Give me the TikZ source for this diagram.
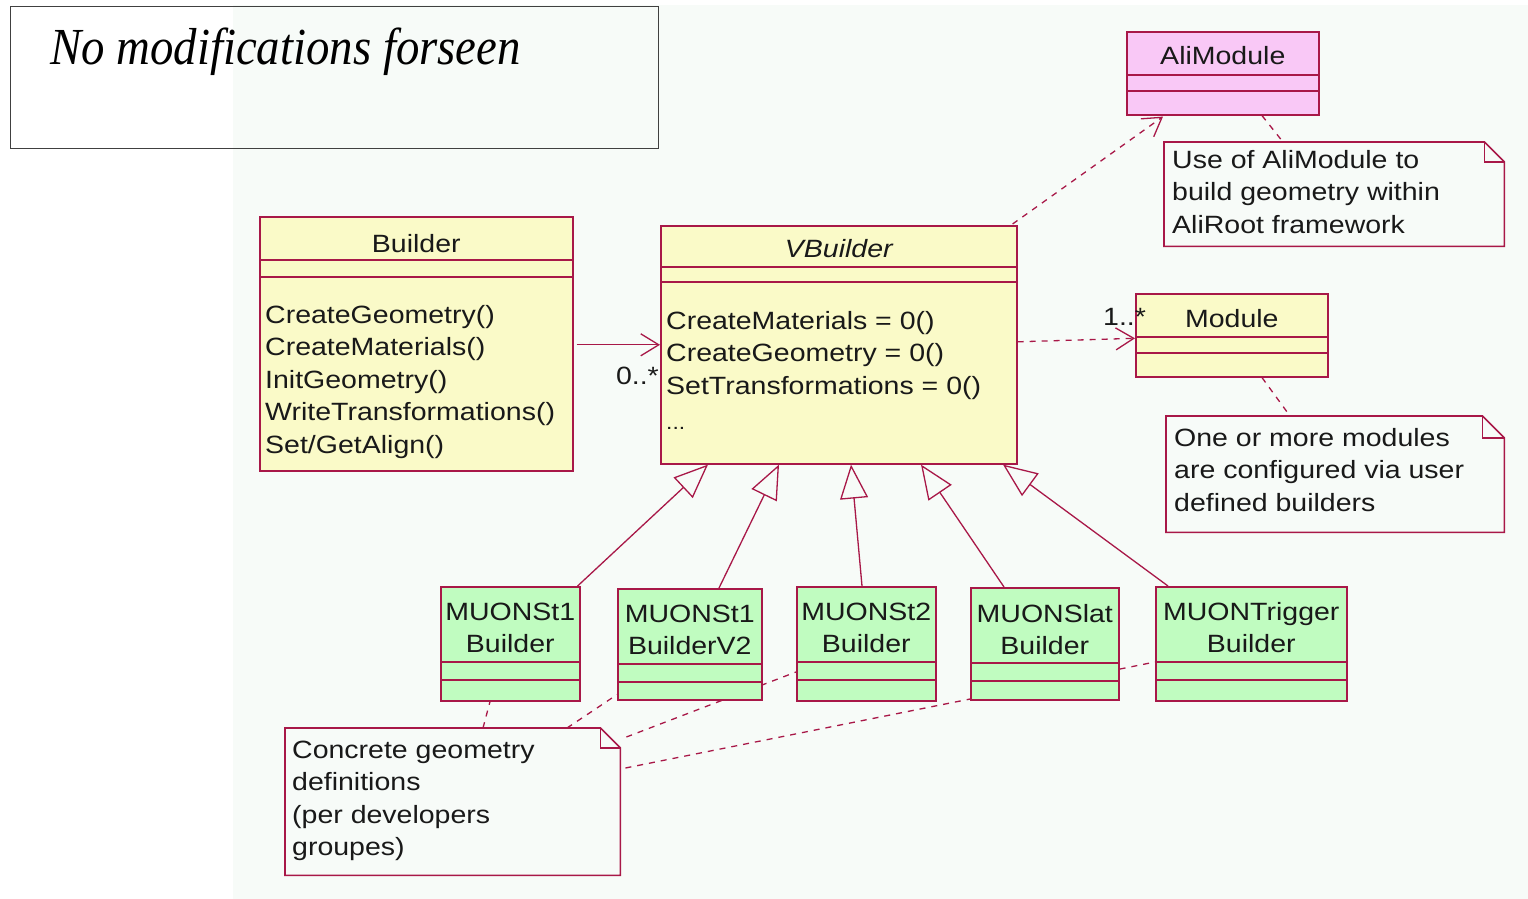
\documentclass[tikz,border=0pt]{standalone}
\usepackage{fontspec}
\newfontfamily\uifont[FakeStretch=1.14]{Liberation Sans}
\newfontfamily\titlefont[FakeStretch=0.9]{Liberation Serif}
\usetikzlibrary{arrows.meta,calc}

\definecolor{umlline}{RGB}{168,24,72}
\definecolor{classyellow}{RGB}{250,250,200}
\definecolor{classpink}{RGB}{249,200,246}
\definecolor{classgreen}{RGB}{192,252,192}
\definecolor{canvas}{RGB}{247,251,248}

\pgfdeclarelayer{canvaslayer}
\pgfdeclarelayer{links}
\pgfsetlayers{canvaslayer,links,main}

% horizontal compartment separator inside a class box
\newcommand\classrule[2]{%
  \draw[umlline,line width=1.6pt] ($(#1.north west)+(0,#2)$) -- ($(#1.north east)+(0,#2)$);}
% note outline with a folded top-right corner
\newcommand\notepath[2]{%
  \draw[umlline,line width=1.6pt] (#1.north west) -- ($(#1.north east)+(-#2,0)$)
     -- ($(#1.north east)+(0,#2)$) -- (#1.south east) -- (#1.south west) -- cycle;
  \draw[umlline,line width=1.6pt] ($(#1.north east)+(-#2,0)$) -- ++(0,#2) -- ++(#2,0);}

\tikzset{
  umltext/.style={font=\uifont\fontsize{25}{32.5}\selectfont, inner sep=0pt, text=black!90},
  classbox/.style={draw=umlline, line width=1.6pt, anchor=north west, inner sep=0pt},
  yclass/.style={classbox, fill=classyellow},
  pclass/.style={classbox, fill=classpink},
  gclass/.style={classbox, fill=classgreen},
  notearea/.style={anchor=north west, inner sep=0pt},
  assoc/.style={draw=umlline, line width=1.3pt, -{Straight Barb[length=18pt,width=22pt]}},
  depend/.style={assoc, dash pattern=on 6pt off 6pt},
  inherit/.style={draw=umlline, line width=1.3pt, -{Triangle[open,length=34pt,width=28pt]}},
  noteline/.style={draw=umlline, line width=1.3pt, dash pattern=on 6pt off 6pt},
}

\begin{document}
\begin{tikzpicture}[x=1pt,y=-1pt]
\useasboundingbox (0,0) rectangle (1528,899);
\begin{pgfonlayer}{canvaslayer}
  \fill[canvas] (233,5) rectangle (1528,899);
\end{pgfonlayer}

% headline frame
\node[draw=black!75, line width=1pt, anchor=north west, inner sep=0pt,
      minimum width=648pt, minimum height=142pt] (headframe) at (10,6) {};
\node[anchor=base west, inner sep=0pt, font=\titlefont\itshape\fontsize{52}{52}\selectfont]
      (headtext) at (50,64) {No modifications forseen};

% ---------- Builder ----------
\node[yclass, minimum width=313pt, minimum height=254pt] (builder) at (259,216) {};
\classrule{builder}{44}\classrule{builder}{61}
\node[umltext, anchor=base] (buildername) at ($(builder.north)+(0,36)$) {Builder};
\node[umltext, anchor=base west] (builderops) at (265,323)
  {\begin{tabular}[t]{@{}l@{}}CreateGeometry()\\CreateMaterials()\\InitGeometry()\\WriteTransformations()\\Set/GetAlign()\end{tabular}};

% ---------- VBuilder ----------
\node[yclass, minimum width=356pt, minimum height=238pt] (vbuilder) at (660,225) {};
\classrule{vbuilder}{42}\classrule{vbuilder}{57}
\node[umltext, anchor=base, font=\uifont\itshape\fontsize{25}{32}\selectfont] (vbuildername)
  at ($(vbuilder.north)+(0,32)$) {VBuilder};
\node[umltext, anchor=base west] (vbuilderops) at (666,329)
  {\begin{tabular}[t]{@{}l@{}}CreateMaterials = 0()\\CreateGeometry = 0()\\SetTransformations = 0()\\[3pt]{\fontsize{20}{20}\selectfont...}\end{tabular}};

% ---------- AliModule ----------
\node[pclass, minimum width=192pt, minimum height=83pt] (alimodule) at (1126,31) {};
\classrule{alimodule}{44}\classrule{alimodule}{60}
\node[umltext, anchor=base] (alimodulename) at ($(alimodule.north)+(0,34)$) {AliModule};

% ---------- Module ----------
\node[yclass, minimum width=192pt, minimum height=83pt] (module) at (1135,293) {};
\classrule{module}{44}\classrule{module}{60}
\node[umltext, anchor=base] (modulename) at ($(module.north)+(0,34)$) {Module};

% ---------- concrete builders ----------
\node[gclass, minimum width=139pt, minimum height=114pt] (st1) at (440,586) {};
\node[gclass, minimum width=144pt, minimum height=111pt] (st1v2) at (617,588) {};
\node[gclass, minimum width=139pt, minimum height=114pt] (st2) at (796,586) {};
\node[gclass, minimum width=148pt, minimum height=112pt] (slat) at (970,587) {};
\node[gclass, minimum width=191pt, minimum height=114pt] (trigger) at (1155,586) {};
\foreach \b in {st1,st1v2,st2,slat,trigger}{\classrule{\b}{76}\classrule{\b}{94}}
\node[umltext, anchor=base] (st1name) at ($(st1.north)+(0,34)$)
  {\begin{tabular}[t]{@{}c@{}}MUONSt1\\Builder\end{tabular}};
\node[umltext, anchor=base] (st1v2name) at ($(st1v2.north)+(0,34)$)
  {\begin{tabular}[t]{@{}c@{}}MUONSt1\\BuilderV2\end{tabular}};
\node[umltext, anchor=base] (st2name) at ($(st2.north)+(0,34)$)
  {\begin{tabular}[t]{@{}c@{}}MUONSt2\\Builder\end{tabular}};
\node[umltext, anchor=base] (slatname) at ($(slat.north)+(0,35)$)
  {\begin{tabular}[t]{@{}c@{}}MUONSlat\\Builder\end{tabular}};
\node[umltext, anchor=base] (triggername) at ($(trigger.north)+(0,34)$)
  {\begin{tabular}[t]{@{}c@{}}MUONTrigger\\Builder\end{tabular}};

% ---------- notes ----------
\node[notearea, minimum width=340pt, minimum height=104pt] (note1) at (1164,142) {};
\notepath{note1}{20}
\node[umltext, anchor=base west] (note1text) at (1172,168)
  {\begin{tabular}[t]{@{}l@{}}Use of AliModule to\\build geometry within\\AliRoot framework\end{tabular}};

\node[notearea, minimum width=338pt, minimum height=116pt] (note2) at (1166,416) {};
\notepath{note2}{22}
\node[umltext, anchor=base west] (note2text) at (1174,446)
  {\begin{tabular}[t]{@{}l@{}}One or more modules\\are configured via user\\defined builders\end{tabular}};

\node[notearea, minimum width=335pt, minimum height=147pt] (note3) at (285,728) {};
\notepath{note3}{20}
\node[umltext, anchor=base west] (note3text) at (292,758)
  {\begin{tabular}[t]{@{}l@{}}Concrete geometry\\definitions\\(per developers\\groupes)\end{tabular}};

% multiplicities
\node[umltext, anchor=base east] (mult0) at (659,384) {0..*};
\node[umltext, anchor=base west] (mult1) at (1103,325) {1..*};

% ---------- connectors ----------
\begin{pgfonlayer}{links}
  \draw[assoc] ($(builder.east)+(3,1)$) -- ($(vbuilder.west)+(0,0)$);
  \draw[depend] ($(vbuilder.east)+(0,-3)$) -- ($(module.west)+(0,3)$);
  \draw[depend] ($(vbuilder.north east)+(-5,-1)$) -- ($(alimodule.south west)+(37,1)$);
  \draw[noteline] ($(alimodule.south west)+(136,0)$) -- ($(note1.north west)+(119,0)$);
  \draw[noteline] ($(module.south west)+(127,0)$) -- ($(note2.north west)+(124,0)$);

  \draw[inherit] ($(st1.north east)+(-3,0)$) -- ($(vbuilder.south west)+(48,0)$);
  \draw[inherit] ($(st1v2.north west)+(102,0)$) -- ($(vbuilder.south west)+(119,0)$);
  \draw[inherit] ($(st2.north west)+(66,0)$) -- ($(vbuilder.south west)+(191,0)$);
  \draw[inherit] ($(slat.north west)+(34,0)$) -- ($(vbuilder.south west)+(261,0)$);
  \draw[inherit] ($(trigger.north west)+(13,0)$) -- ($(vbuilder.south west)+(343,0)$);

  \draw[noteline] ($(note3.north west)+(198,0)$) -- ($(st1.south west)+(50,0)$);
  \draw[noteline] ($(note3.north west)+(282,0)$) -- ($(st1v2.south west)+(0,-6)$);
  \draw[noteline] ($(note3.north east)+(6,9)$) -- ($(st2.north west)+(0,86)$);
  \draw[noteline] ($(note3.north east)+(5,40)$) -- ($(trigger.north west)+(0,76)$);
\end{pgfonlayer}
\end{tikzpicture}
\end{document}
